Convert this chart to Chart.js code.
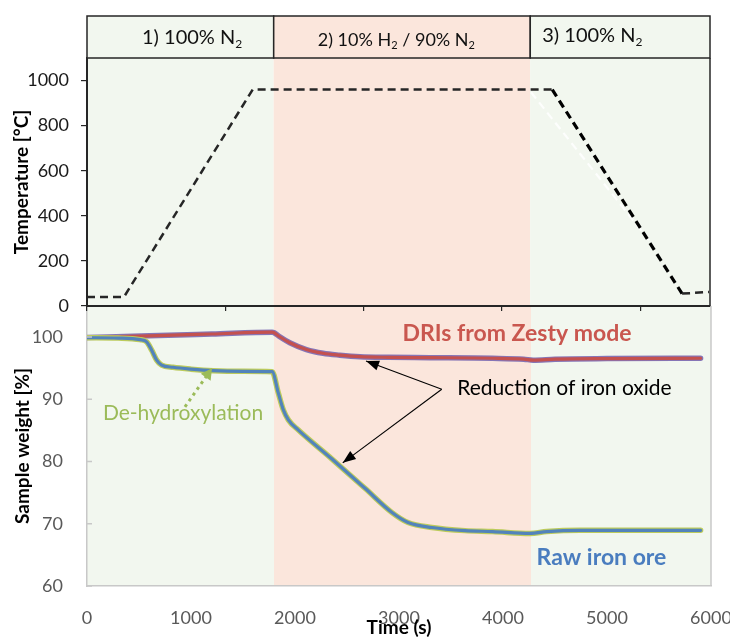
<!DOCTYPE html>
<html>
<head>
<meta charset="utf-8">
<script src="https://cdn.jsdelivr.net/npm/chart.js@4/dist/chart.umd.min.js"></script>
<style>
  html, body { margin: 0; padding: 0; background: #ffffff; }
  #wrap { position: relative; width: 730px; height: 637px; }
  #wrap canvas { position: absolute; left: 0; top: 0; }
</style>
</head>
<body>
<div id="wrap">
  <canvas id="weight" width="730" height="637"></canvas>
  <canvas id="temp" width="730" height="637"></canvas>
</div>
<script>
// ---- furnace programme (top panel) ----
const tempTime  = [0, 356, 1596, 4481, 5731, 5990];
const tempValue = [40, 40, 960, 960, 55, 62];
// faint white trace of the cooling step
const coolTime  = [4276, 5413];
const coolValue = [948, 292];
const tempTickTime  = [0, 1335, 2665, 3995, 5330];
const tempTickValue = [0, 200, 400, 600, 800, 1000];

// ---- gas atmosphere phases ----
const phaseEdges = [0, 1798, 4269, 6000];
const phaseNames = ['1) 100% N_2', '2) 10% H_2 / 90% N_2', '3) 100% N_2'];

// ---- thermogravimetric curves (bottom panel) ----
const oreTime   = [0, 300, 510, 573, 622, 670, 718, 827, 1000, 1212, 1500, 1780, 1840, 1888, 1936, 2030,
                   2356, 2673, 2933, 3087, 3317, 3635, 3900, 4260, 4420, 4740, 5900];
const oreWeight = [99.9, 99.85, 99.6, 99.25, 97.9, 96.3, 95.5, 95.15, 94.85, 94.6, 94.5, 94.45, 91.0, 88.3, 86.7, 85.1,
                   80.4, 75.7, 71.8, 70.2, 69.4, 68.9, 68.75, 68.45, 68.75, 68.95, 68.95];

const driTime   = [0, 600, 1200, 1780, 1800, 1850, 1950, 2110, 2270, 2430, 2625, 2900, 3300, 3900, 4200, 4290, 4500, 5000, 5900];
const driWeight = [99.95, 100.2, 100.5, 100.8, 100.7, 100.1, 99.1, 98.0, 97.4, 97.1, 96.85, 96.75, 96.7, 96.6, 96.45, 96.3, 96.45, 96.55, 96.6];

const timeTicks   = [0, 1000, 2000, 3000, 4000, 5000, 6000];
const weightTicks = [60, 70, 80, 90, 100];

const FONT = 'Lato, "Liberation Sans", sans-serif';
const GREEN_BAND = '#f2f7ef';
const RED_BAND = '#fbe6dc';
const bandColors = [GREEN_BAND, RED_BAND, GREEN_BAND];

const toPoints = (xs, ys) => xs.map((x, i) => ({ x, y: ys[i] }));
const plain = v => String(v);

// text with "_c" marking a subscript character
function drawRich(ctx, str, x, y, size, color) {
  const parts = str.split(/(_.)/).filter(Boolean);
  let cx = x;
  ctx.fillStyle = color;
  ctx.textBaseline = 'middle';
  ctx.textAlign = 'left';
  for (const p of parts) {
    const sub = p.length === 2 && p[0] === '_';
    const txt = sub ? p[1] : p;
    ctx.font = (sub ? Math.round(size * 0.62) : size) + 'px ' + FONT;
    ctx.fillText(txt, cx, sub ? y + size * 0.3 : y);
    cx += ctx.measureText(txt).width;
  }
}

function arrowHead(ctx, x1, y1, x2, y2, len, half, color) {
  const a = Math.atan2(y2 - y1, x2 - x1);
  ctx.save();
  ctx.fillStyle = color;
  ctx.beginPath();
  ctx.moveTo(x2, y2);
  ctx.lineTo(x2 - len * Math.cos(a) + half * Math.sin(a), y2 - len * Math.sin(a) - half * Math.cos(a));
  ctx.lineTo(x2 - len * Math.cos(a) - half * Math.sin(a), y2 - len * Math.sin(a) + half * Math.cos(a));
  ctx.closePath();
  ctx.fill();
  ctx.restore();
}

function paintBands(chart, top, bottom) {
  const ctx = chart.ctx, xs = chart.scales.x;
  ctx.save();
  for (let i = 0; i < bandColors.length; i++) {
    const l = xs.getPixelForValue(phaseEdges[i]);
    const r = xs.getPixelForValue(phaseEdges[i + 1]);
    ctx.fillStyle = bandColors[i];
    ctx.fillRect(l, top, r - l, bottom - top);
  }
  ctx.restore();
}

// ---- top panel decorations: bands, phase header, frame, axis title ----
const tempDecor = {
  id: 'tempDecor',
  beforeDraw(chart) {
    const a = chart.chartArea;
    paintBands(chart, a.top, a.bottom);
  },
  afterDraw(chart) {
    const ctx = chart.ctx, a = chart.chartArea, xs = chart.scales.x;
    const hTop = 16, hBot = a.top;
    const textOffset = [55, 44, 12];
    const textY = [38, 40, 36];
    const textSize = [20, 18, 20];
    ctx.save();
    for (let i = 0; i < phaseNames.length; i++) {
      const l = xs.getPixelForValue(phaseEdges[i]);
      const r = i === 2 ? a.right : xs.getPixelForValue(phaseEdges[i + 1]);
      ctx.fillStyle = bandColors[i];
      ctx.fillRect(l, hTop, r - l, hBot - hTop);
      ctx.strokeStyle = '#262626';
      ctx.lineWidth = 1.5;
      ctx.strokeRect(l, hTop, r - l, hBot - hTop);
      drawRich(ctx, phaseNames[i], l + textOffset[i], textY[i], textSize[i], '#111111');
    }
    // right frame edge
    ctx.strokeStyle = '#262626';
    ctx.lineWidth = 1.5;
    ctx.beginPath();
    ctx.moveTo(a.right, a.top);
    ctx.lineTo(a.right, a.bottom);
    ctx.stroke();
    // axis title
    ctx.translate(22, (a.top + a.bottom) / 2);
    ctx.rotate(-Math.PI / 2);
    ctx.font = 'bold 19px ' + FONT;
    ctx.fillStyle = '#000000';
    ctx.textAlign = 'center';
    ctx.textBaseline = 'middle';
    ctx.fillText('Temperature [°C]', 0, 0);
    ctx.restore();
  }
};

// ---- bottom panel decorations: bands, frame, labels, arrows ----
const weightDecor = {
  id: 'weightDecor',
  beforeDraw(chart) {
    const a = chart.chartArea;
    paintBands(chart, a.top, a.bottom);
  },
  afterDraw(chart) {
    const ctx = chart.ctx, a = chart.chartArea;
    const X = v => chart.scales.x.getPixelForValue(v);
    const Y = v => chart.scales.y.getPixelForValue(v);
    ctx.save();
    // right frame edge
    ctx.strokeStyle = '#c8c8c8';
    ctx.lineWidth = 1.5;
    ctx.beginPath();
    ctx.moveTo(a.right, a.top);
    ctx.lineTo(a.right, a.bottom);
    ctx.stroke();
    // inner tick marks on the weight axis
    ctx.beginPath();
    for (const t of weightTicks) {
      ctx.moveTo(a.left, Y(t));
      ctx.lineTo(a.left + 5, Y(t));
    }
    ctx.stroke();

    // series labels
    ctx.textBaseline = 'middle';
    ctx.textAlign = 'center';
    ctx.font = 'bold 23px ' + FONT;
    ctx.fillStyle = '#c9574f';
    ctx.fillText('DRIs from Zesty mode', X(4135), Y(100.64));
    ctx.fillStyle = '#4a7dbf';
    ctx.fillText('Raw iron ore', X(4947), Y(64.6));

    // reduction annotation
    ctx.font = '21px ' + FONT;
    ctx.fillStyle = '#000000';
    ctx.textAlign = 'left';
    ctx.fillText('Reduction of iron oxide', X(3560), Y(91.8));
    const sx = X(3411), sy = Y(91.63);
    const tips = [[2683, 96.16], [2459, 79.79]];
    ctx.strokeStyle = '#000000';
    ctx.lineWidth = 1.1;
    for (const [tx, ty] of tips) {
      const ex = X(tx), ey = Y(ty);
      ctx.beginPath();
      ctx.moveTo(sx, sy);
      ctx.lineTo(ex, ey);
      ctx.stroke();
      arrowHead(ctx, sx, sy, ex, ey, 13, 5, '#000000');
    }

    // de-hydroxylation annotation
    ctx.font = '21px ' + FONT;
    ctx.fillStyle = '#9bbb59';
    ctx.textAlign = 'center';
    ctx.fillText('De-hydroxylation', X(923), Y(87.7));
    const gx1 = X(942), gy1 = Y(88.8), gx2 = X(1202), gy2 = Y(95.0);
    ctx.strokeStyle = '#9bbb59';
    ctx.lineWidth = 3;
    ctx.setLineDash([3, 4]);
    ctx.beginPath();
    ctx.moveTo(gx1, gy1);
    const ang = Math.atan2(gy2 - gy1, gx2 - gx1);
    ctx.lineTo(gx2 - 8 * Math.cos(ang), gy2 - 8 * Math.sin(ang));
    ctx.stroke();
    ctx.setLineDash([]);
    arrowHead(ctx, gx1, gy1, gx2, gy2, 11, 6, '#9bbb59');

    // axis titles
    ctx.font = 'bold 19px ' + FONT;
    ctx.fillStyle = '#000000';
    ctx.textAlign = 'center';
    ctx.fillText('Time (s)', (a.left + a.right) / 2, 628);
    ctx.translate(23, (a.top + a.bottom) / 2);
    ctx.rotate(-Math.PI / 2);
    ctx.fillText('Sample weight [%]', 0, 0);
    ctx.restore();
  }
};

const lineStyle = { pointRadius: 0, fill: false, cubicInterpolationMode: 'monotone', borderCapStyle: 'round', borderJoinStyle: 'round' };

new Chart(document.getElementById('weight'), {
  type: 'line',
  data: {
    datasets: [
      Object.assign({ data: toPoints(driTime, driWeight), borderColor: '#8675b6', borderWidth: 5.5, order: 4 }, lineStyle),
      Object.assign({ data: toPoints(driTime, driWeight), borderColor: '#c4514f', borderWidth: 3.2, order: 3 }, lineStyle),
      Object.assign({ data: toPoints(oreTime, oreWeight), borderColor: '#bccb5c', borderWidth: 5.5, order: 2 }, lineStyle),
      Object.assign({ data: toPoints(oreTime, oreWeight), borderColor: '#5283bb', borderWidth: 3.2, order: 1 }, lineStyle)
    ]
  },
  options: {
    responsive: false,
    animation: false,
    devicePixelRatio: 1,
    layout: { padding: { top: 306, right: 19, bottom: 0, left: 0 } },
    plugins: { legend: { display: false }, tooltip: { enabled: false } },
    scales: {
      x: {
        type: 'linear', min: 0, max: 6000,
        afterBuildTicks: s => { s.ticks = timeTicks.map(v => ({ value: v })); },
        ticks: { color: '#595959', font: { family: FONT, size: 18 }, padding: 13, maxRotation: 0, callback: plain },
        grid: { display: false },
        border: { color: '#c8c8c8', width: 1.5 },
        afterFit: s => { s.height = 51; s.paddingLeft = 0; s.paddingRight = 0; }
      },
      y: {
        type: 'linear', min: 60, max: 105,
        afterBuildTicks: s => { s.ticks = weightTicks.map(v => ({ value: v })); },
        ticks: { color: '#595959', font: { family: FONT, size: 18 }, padding: 16, callback: plain },
        grid: { display: false },
        border: { color: '#c8c8c8', width: 1.5 },
        afterFit: s => { s.width = 87; s.paddingTop = 0; s.paddingBottom = 0; }
      }
    }
  },
  plugins: [weightDecor]
});

new Chart(document.getElementById('temp'), {
  type: 'line',
  data: {
    datasets: [
      {
        data: toPoints(tempTime, tempValue),
        borderColor: '#262626', borderWidth: 2.5, borderDash: [8, 5],
        pointRadius: 0, tension: 0, fill: false, order: 1,
        segment: {
          borderColor: c => c.p1.parsed.y < c.p0.parsed.y - 1 ? '#000000' : undefined,
          borderWidth: c => c.p1.parsed.y < c.p0.parsed.y - 1 ? 3.2 : undefined
        }
      },
      {
        data: toPoints(coolTime, coolValue),
        borderColor: 'rgba(255,255,255,0.85)', borderWidth: 2.2, borderDash: [8, 5],
        pointRadius: 0, tension: 0, fill: false, order: 2
      }
    ]
  },
  options: {
    responsive: false,
    animation: false,
    devicePixelRatio: 1,
    layout: { padding: { top: 58, right: 20, bottom: 307, left: 0 } },
    plugins: { legend: { display: false }, tooltip: { enabled: false } },
    scales: {
      x: {
        type: 'linear', min: 0, max: 6000,
        afterBuildTicks: s => { s.ticks = tempTickTime.map(v => ({ value: v })); },
        ticks: { callback: () => '' },
        grid: { drawOnChartArea: false, drawTicks: true, tickLength: 5, color: '#262626', lineWidth: 1.2 },
        border: { color: '#262626', width: 2 },
        afterFit: s => { s.height = 24; s.paddingLeft = 0; s.paddingRight = 0; }
      },
      y: {
        type: 'linear', min: 0, max: 1100,
        afterBuildTicks: s => { s.ticks = tempTickValue.map(v => ({ value: v })); },
        ticks: { color: '#1a1a1a', font: { family: FONT, size: 18 }, padding: 12, callback: plain },
        grid: { drawOnChartArea: false, drawTicks: true, tickLength: 6, color: '#262626', lineWidth: 1.2 },
        border: { color: '#262626', width: 2 },
        afterFit: s => { s.width = 87; s.paddingTop = 0; s.paddingBottom = 0; }
      }
    }
  },
  plugins: [tempDecor]
});
</script>
</body>
</html>
